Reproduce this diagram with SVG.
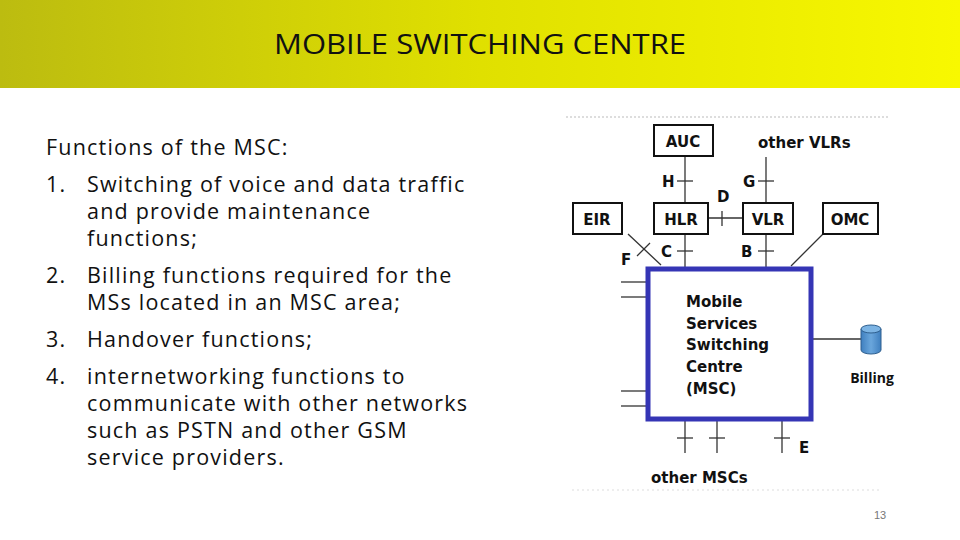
<svg xmlns="http://www.w3.org/2000/svg" width="960" height="540" viewBox="0 0 960 540">
<defs>
<linearGradient id="hd" x1="0" y1="0" x2="1" y2="0"><stop offset="0" stop-color="#bcbc10"/><stop offset="0.5" stop-color="#e0e000"/><stop offset="1" stop-color="#f8f800"/></linearGradient>
<linearGradient id="cy" x1="0" y1="0" x2="1" y2="0"><stop offset="0" stop-color="#3f7fbf"/><stop offset="0.5" stop-color="#6aa6dc"/><stop offset="1" stop-color="#3f7fbf"/></linearGradient>
</defs>
<style>
.t{font-family:"Open Sans","Liberation Sans",sans-serif;font-size:21.5px;letter-spacing:1.2px;fill:#111}
.b{fill:#fff;stroke:#111;stroke-width:2}
.bl{font-family:Verdana,"DejaVu Sans",sans-serif;font-weight:bold;font-size:15px;fill:#111}
.ln{stroke:#333;stroke-width:1.3;fill:none}
</style>
<rect width="960" height="540" fill="#fff"/>
<rect width="960" height="88" fill="url(#hd)"/>
<text x="480" y="54" text-anchor="middle" style="font-family:'Open Sans','Liberation Sans',sans-serif;font-size:28px;fill:#111" textLength="412" lengthAdjust="spacingAndGlyphs">MOBILE SWITCHING CENTRE</text>
<g id="text">
<text class="t" x="46" y="155">Functions of the MSC:</text>
<text class="t" x="46" y="192">1.</text><text class="t" x="87" y="192">Switching of voice and data traffic</text>
<text class="t" x="87" y="219">and provide maintenance</text>
<text class="t" x="87" y="246">functions;</text>
<text class="t" x="46" y="283">2.</text><text class="t" x="87" y="283">Billing functions required for the</text>
<text class="t" x="87" y="310">MSs located in an MSC area;</text>
<text class="t" x="46" y="347">3.</text><text class="t" x="87" y="347">Handover functions;</text>
<text class="t" x="46" y="384">4.</text><text class="t" x="87" y="384">internetworking functions to</text>
<text class="t" x="87" y="411">communicate with other networks</text>
<text class="t" x="87" y="438">such as PSTN and other GSM</text>
<text class="t" x="87" y="465">service providers.</text>
</g>
<line x1="566" y1="117" x2="890" y2="117" stroke="#bbb" stroke-dasharray="2 2"/>
<line x1="572" y1="490" x2="880" y2="490" stroke="#ddd" stroke-dasharray="2 3"/>
<g id="connectors" class="ln">
<line x1="685" y1="156" x2="685" y2="268"/><line x1="677" y1="181" x2="693" y2="181"/><line x1="677" y1="251" x2="693" y2="251"/>
<line x1="766" y1="157" x2="766" y2="268"/><line x1="758" y1="181" x2="774" y2="181"/><line x1="758" y1="251" x2="774" y2="251"/>
<line x1="708" y1="218" x2="743" y2="218"/><line x1="722" y1="211" x2="722" y2="226"/>
<line x1="628" y1="234" x2="661" y2="265"/><line x1="637" y1="256" x2="650" y2="243"/>
<line x1="823" y1="234" x2="791" y2="266"/>
<line x1="621" y1="282" x2="647" y2="282"/><line x1="621" y1="297" x2="647" y2="297"/>
<line x1="621" y1="391" x2="647" y2="391"/><line x1="621" y1="406" x2="647" y2="406"/>
<line x1="812" y1="339" x2="861" y2="339"/>
<line x1="685" y1="420" x2="685" y2="453"/><line x1="677" y1="438" x2="693" y2="438"/>
<line x1="717" y1="420" x2="717" y2="453"/><line x1="709" y1="438" x2="725" y2="438"/>
<line x1="782" y1="420" x2="782" y2="453"/><line x1="774" y1="438" x2="790" y2="438"/>
</g>
<g id="labels" class="bl">
<text x="662" y="187">H</text><text x="743" y="187">G</text><text x="717" y="202">D</text>
<text x="661" y="257">C</text><text x="741" y="257">B</text><text x="621" y="265">F</text><text x="799" y="453">E</text>
<text x="758" y="148">other VLRs</text><text x="651" y="483">other MSCs</text>
</g>
<g id="AUC"><rect class="b" x="654" y="125" width="59" height="31"/><text class="bl" x="683" y="147" text-anchor="middle">AUC</text></g>
<g id="HLR"><rect class="b" x="654" y="203" width="54" height="31"/><text class="bl" x="681" y="225" text-anchor="middle">HLR</text></g>
<g id="VLR"><rect class="b" x="743" y="203" width="50" height="31"/><text class="bl" x="768" y="225" text-anchor="middle">VLR</text></g>
<g id="EIR"><rect class="b" x="573" y="203" width="49" height="31"/><text class="bl" x="597" y="225" text-anchor="middle">EIR</text></g>
<g id="OMC"><rect class="b" x="823" y="203" width="55" height="31"/><text class="bl" x="850" y="225" text-anchor="middle">OMC</text></g>
<g id="MSC"><rect x="648" y="269" width="163" height="150" fill="#fff" stroke="#3535b5" stroke-width="5"/>
<text class="bl" x="686" y="307">Mobile</text><text class="bl" x="686" y="329">Services</text><text class="bl" x="686" y="350">Switching</text><text class="bl" x="686" y="372">Centre</text><text class="bl" x="686" y="394">(MSC)</text></g>
<g id="Billing"><path d="M861 329 v21 a10 4 0 0 0 20 0 v-21 z" fill="url(#cy)" stroke="#2e5f8f"/><ellipse cx="871" cy="329" rx="10" ry="4" fill="#7cb4e4" stroke="#2e5f8f"/>
<text x="872" y="383" text-anchor="middle" style="font-family:'Open Sans',sans-serif;font-weight:bold;font-size:14px;fill:#111">Billing</text></g>
<text x="880" y="519" text-anchor="middle" style="font-family:'Liberation Sans',sans-serif;font-size:11px;fill:#777">13</text>
</svg>
